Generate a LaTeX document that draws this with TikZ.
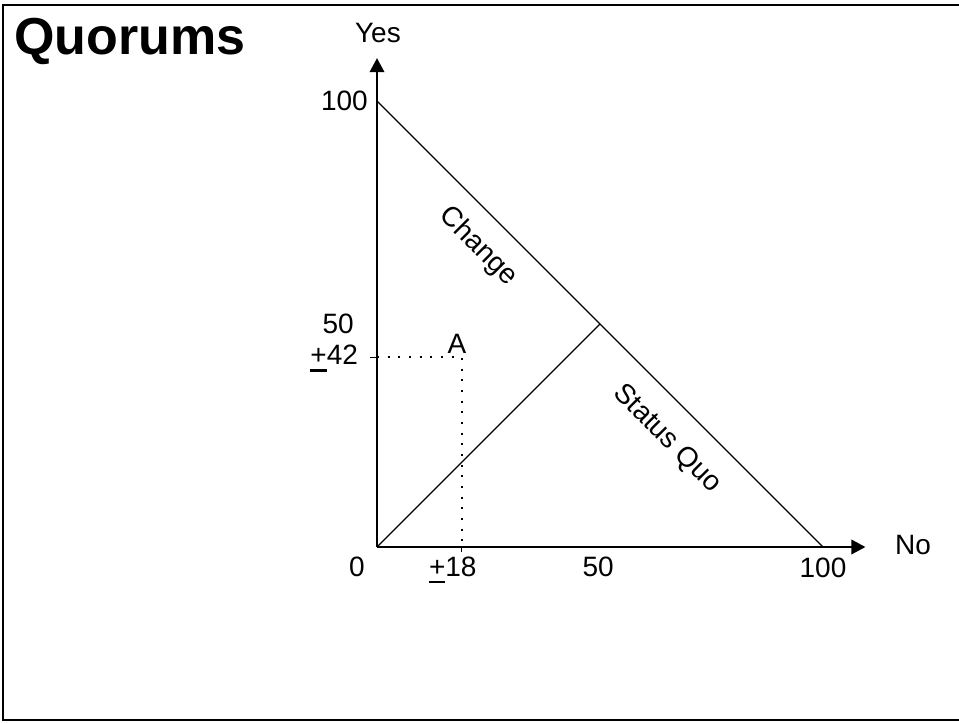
\documentclass[tikz,border=0pt]{standalone}
\usepackage{fontspec}
\setmainfont{Liberation Sans}
\usepackage{tikz}
\usetikzlibrary{arrows.meta}
\newcommand{\ulPlus}{\smash{\rlap{\rule[-5pt]{0.58em}{2pt}}}+}

\begin{document}
\begin{tikzpicture}[
    x=0.75pt, y=-0.75pt,
    every node/.style={font=\fontsize{21}{25}\selectfont, inner sep=0pt},
    axis/.style={line width=1.2pt, -{Triangle[length=10.5pt, width=11pt]}},
    edge/.style={line width=0.9pt},
    guide/.style={line width=1.5pt, dash pattern=on 1.4pt off 6.6pt},
    tick/.style={line width=0.9pt},
    slanted/.style={rotate=-45}
]
\useasboundingbox (0,0) rectangle (959,723);

% Frame and title
\draw[line width=1.8pt] (3,5) rectangle (964,720);
\node[anchor=west, font=\fontsize{39}{43}\selectfont\bfseries] (title) at (14,41) {Quorums};

% Chart in vote units
\begin{scope}[shift={(377,547)}, x=3.345pt, y=3.345pt]
  \coordinate (origin) at (0,0);
  \coordinate (yesEnd) at (0,109.6);
  \coordinate (noEnd) at (109.5,0);
  \coordinate (yesMax) at (0,100);
  \coordinate (noMax) at (100,0);
  \coordinate (tie) at (50,50);
  \coordinate (pointA) at (19,42.5);
  \coordinate (aYes) at (0,42.5);
  \coordinate (aNo) at (19,0);
  \coordinate (tickYes) at (-1.6,42.5);
  \coordinate (tickNo) at (19,-1.2);

  % Axes
  \draw[axis] (origin) -- (yesEnd);
  \draw[axis] (origin) -- (noEnd);

  % Regions
  \draw[edge] (yesMax) -- (noMax);
  \draw[edge] (origin) -- (tie);

  % Point A
  \draw[guide] (aYes) -- (pointA) -- (aNo);
  \draw[tick] (tickYes) -- (aYes);
  \draw[tick] (aNo) -- (tickNo);

  % Labels
  \node (yesLabel) at (0.2,115.3) {Yes};
  \node[anchor=east] (yes100) at (-2,100) {100};
  \node (yes50) at (-8.7,50.1) {50};
  \node (yes42) at (-9.6,43) {\ulPlus42};
  \node (aLabel) at (17.9,45.6) {A};
  \node (no0) at (-4.5,-4.5) {0};
  \node (no18) at (17,-4.5) {\ulPlus18};
  \node (no50) at (49.6,-4.5) {50};
  \node (no100) at (100,-4.6) {100};
  \node (noLabel) at (120.2,0.4) {No};
  \node[slanted] (changeLabel) at (22.6,67.4) {Change};
  \node[slanted] (quoLabel) at (65,24.2) {Status Quo};
\end{scope}

\end{tikzpicture}
\end{document}
